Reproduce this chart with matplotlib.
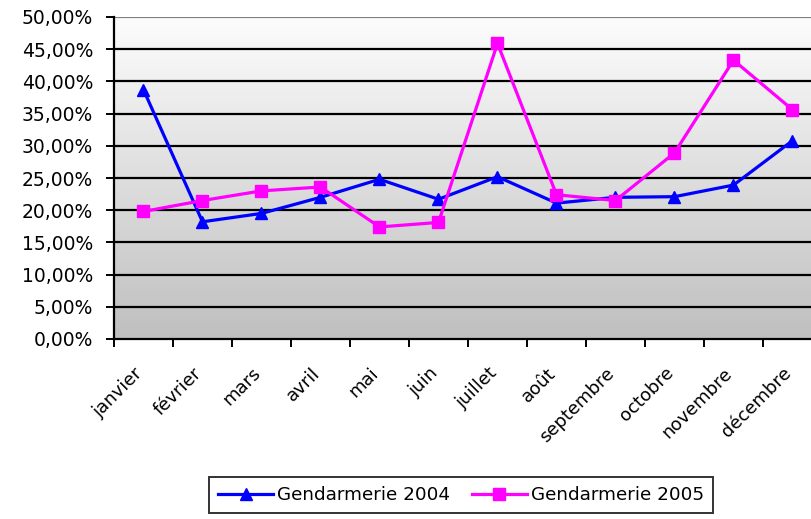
import matplotlib
matplotlib.use("Agg")
import matplotlib.pyplot as plt
import matplotlib.transforms as mtransforms
import numpy as np
from matplotlib.ticker import FuncFormatter, FixedLocator

months = ["janvier", "février", "mars", "avril", "mai", "juin", "juillet",
          "août", "septembre", "octobre", "novembre", "décembre"]
gend_2004 = [38.7, 18.2, 19.5, 22.0, 24.8, 21.7, 25.2, 21.1, 22.0, 22.1, 23.9, 30.8]
gend_2005 = [19.8, 21.5, 23.0, 23.6, 17.4, 18.1, 45.9, 22.4, 21.5, 28.9, 43.3, 35.6]
yticks = [0, 5, 10, 15, 20, 25, 30, 35, 40, 45, 50]

plt.rcParams['font.family'] = ['DejaVu Sans']
W, H = 812, 519
fig = plt.figure(figsize=(W / 100, H / 100), dpi=100)
left, right, top, bottom = 114, 822, 17, 339
ax = fig.add_axes([left / W, 1 - bottom / H, (right - left) / W, (bottom - top) / H])

n = len(months)
x = np.arange(n)
ax.set_xlim(-0.5, n - 0.5)
ax.set_ylim(0, 50)

# gradient background
g = np.linspace(0, 1, 256).reshape(-1, 1)
top_c = np.array([0.99, 0.99, 0.99])
bot_c = np.array([0.75, 0.75, 0.75])
img = top_c * (1 - g[..., None]) + bot_c * g[..., None]
img = np.repeat(img, 2, axis=1)
ax.imshow(img, extent=[-0.5, n - 0.5, 0, 50], aspect='auto', zorder=0,
          origin='upper')

for v in yticks[1:-1]:
    ax.axhline(v, color='black', lw=1.6, zorder=1)
ax.axhline(50, color='#808080', lw=1.6, zorder=1)

ax.plot(x, gend_2004, color='#0000ff', lw=2.3, marker='^', ms=9,
        label='Gendarmerie 2004', zorder=3)
ax.plot(x, gend_2005, color='#ff00ff', lw=2.3, marker='s', ms=9,
        label='Gendarmerie 2005', zorder=3)

ax.yaxis.set_major_locator(FixedLocator(yticks))
ax.yaxis.set_major_formatter(FuncFormatter(lambda v, p: f"{v:.2f}".replace('.', ',') + "%"))
ax.tick_params(axis='y', labelsize=13.5, length=6, width=1.4, direction='out', pad=9)

ax.set_xticks(np.arange(-0.5, n, 1.0))
ax.set_xticklabels([])
ax.set_xticks(x, minor=True)
ax.set_xticklabels(months, minor=True, rotation=45, ha='right',
                   rotation_mode='anchor', fontsize=13)
ax.tick_params(axis='x', which='major', length=6, width=1.4, direction='out')
ax.tick_params(axis='x', which='minor', length=0, pad=18)
shift = mtransforms.ScaledTranslation(-10 / 100, 0, fig.dpi_scale_trans)
for lab in ax.get_xticklabels(minor=True):
    lab.set_transform(lab.get_transform() + shift)

for s in ['left', 'bottom']:
    ax.spines[s].set_linewidth(1.6)
    ax.spines[s].set_color('black')
ax.spines['top'].set_visible(False)
ax.spines['right'].set_visible(False)

leg = fig.legend(loc='upper center', bbox_to_anchor=(461 / W, 1 - 477 / H),
                 ncol=2, frameon=True, fancybox=False, fontsize=13.2,
                 handlelength=3.0, handletextpad=0.2, columnspacing=1.2,
                 borderpad=0.5, borderaxespad=0, edgecolor='black')
leg.get_frame().set_linewidth(1.4)

fig.savefig("out.png", dpi=100)
